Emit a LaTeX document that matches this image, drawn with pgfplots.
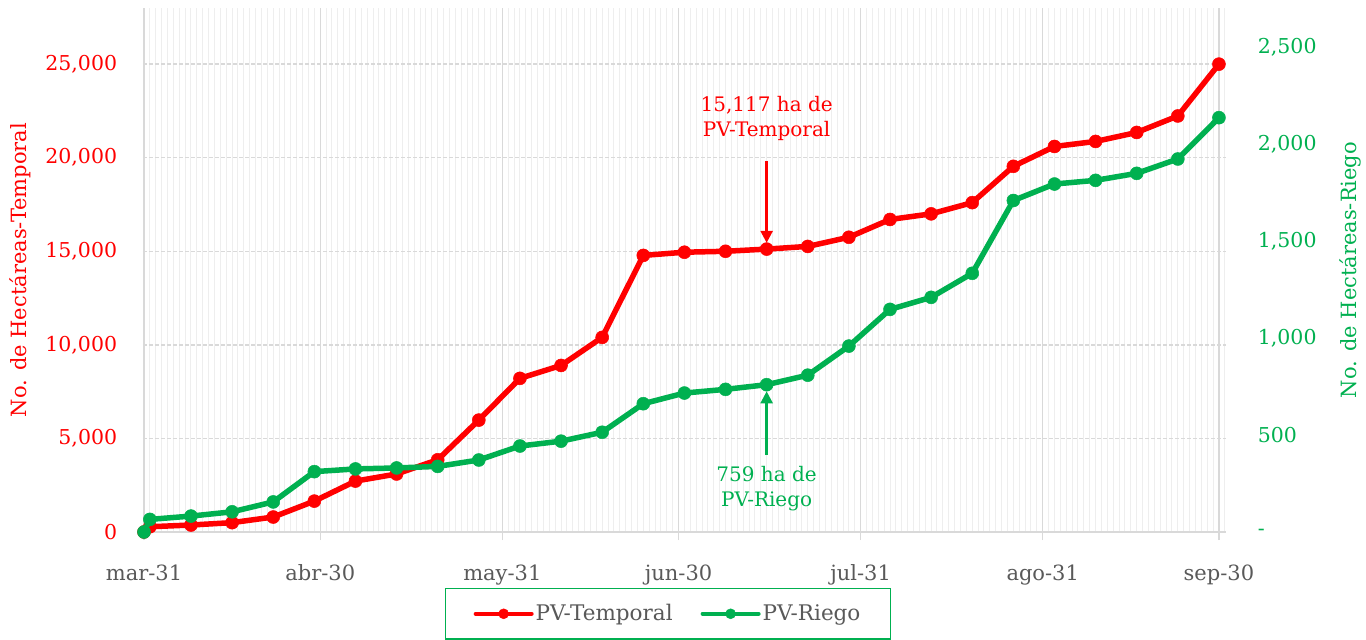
\documentclass[border=0pt]{standalone}
\usepackage{fontspec}
\setmainfont{DejaVu Serif}
\usepackage{pgfplots}
\usepackage{pgfplotstable}
\pgfplotsset{compat=1.18}
\usetikzlibrary{arrows.meta}
\definecolor{myred}{RGB}{255,0,0}
\definecolor{mygreen}{RGB}{0,176,80}
\definecolor{txtgray}{RGB}{89,89,89}
\definecolor{gridmaj}{RGB}{217,217,217}
\definecolor{gridmin}{RGB}{238,238,238}
\pgfplotstableread{
day temporal riego
0 0 0
1 280 65
8 373 82
15 500 104
22 800 155
29 1650 311
36 2720 325
43 3100 330
50 3860 338
57 5980 371
64 8210 443
71 8900 468
78 10400 514
85 14780 661
92 14950 716
99 15000 735
106 15117 759
113 15260 808
120 15750 958
127 16700 1147
134 17000 1209
141 17600 1333
148 19540 1708
155 20600 1793
162 20870 1812
169 21350 1848
176 22230 1922
183 25000 2135
}\datatable
\pgfplotsset{base/.style={width=1083pt,height=524pt,scale only axis,
  at={(143pt,108pt)},anchor=south west,xmin=-0.17,xmax=184.2,clip=false,
  scaled y ticks=false,
  /pgf/number format/assume math mode=true,
  /pgf/number format/1000 sep={,}}}
\begin{document}
\fontsize{20}{25}\selectfont
\begin{tikzpicture}
\useasboundingbox (0,0) rectangle (1366pt,640pt);
\begin{axis}[base,
  ymin=0,ymax=28000,
  axis x line*=bottom, axis y line*=left,
  x axis line style={gridmaj,line width=1.5pt,-},
  y axis line style={draw=none},
  xtick={0,30,61,91,122,153,183},
  xticklabels={mar-31,abr-30,may-31,jun-30,jul-31,ago-31,sep-30},
  minor xtick={0,1,...,184},
  xtick style={gridmaj,line width=1.3pt},
  ytick style={draw=none},
  major tick length=8pt, minor tick length=0pt,
  xtick align=outside,
  ytick={0,5000,10000,15000,20000,25000},
  xticklabel style={anchor=base,yshift=-40pt,text=txtgray,font=\fontsize{21}{25}\selectfont},
  yticklabel style={anchor=east,xshift=-19pt,text=myred,font=\fontsize{20.5}{25}\selectfont},
  xmajorgrids, xminorgrids, ymajorgrids,
  major x grid style={gridmaj,line width=1.3pt},
  minor x grid style={gridmin,line width=1pt},
  major y grid style={gridmaj,line width=1.3pt,dash pattern=on 4pt off 2pt},
  ylabel={No. de Hectáreas-Temporal},
  every axis y label/.style={at={(axis description cs:-0.1136,0.5)},rotate=90,anchor=center,text=myred,font=\fontsize{21}{25}\selectfont},
  legend columns=2,
  legend style={at={(axis description cs:0.4848,-0.1069)},anchor=north,
    draw=mygreen,line width=1.2pt,text=txtgray,inner xsep=28pt,inner ysep=13.5pt,
    font=\fontsize{21.5}{25}\selectfont,
    /tikz/every even column/.append style={column sep=26pt}},
  legend image code/.code={\draw[#1,mark repeat=2,mark phase=2] plot coordinates {(0pt,0pt) (28pt,0pt) (56pt,0pt)};},
]
\addplot[myred,line width=5.5pt,mark=*,mark size=6.5pt,mark options={line width=0.5pt,fill=myred},forget plot] table[x=day,y=temporal]{\datatable};
\addlegendimage{myred,line width=4pt,line cap=round,mark=*,mark size=5pt,mark options={line width=0.5pt,fill=myred}}
\addlegendentry{PV-Temporal}
\addlegendimage{mygreen,line width=4pt,line cap=round,mark=*,mark size=5pt,mark options={line width=0.5pt,fill=mygreen}}
\addlegendentry{PV-Riego}
\draw[myred,line width=2.5pt,-{Triangle[length=12pt,width=12pt]}] (axis cs:106,19830) -- (axis cs:106,15450);
\node[text=myred,align=center,font=\fontsize{20}{25}\selectfont] at (axis cs:106,22070) {15,117 ha de\\PV-Temporal};
\draw[mygreen,line width=2.5pt,-{Triangle[length=12pt,width=12pt]}] (axis cs:106,4104) -- (axis cs:106,7516);
\node[text=mygreen,align=center,font=\fontsize{20}{25}\selectfont] at (axis cs:106,2300) {759 ha de\\PV-Riego};
\end{axis}
\begin{axis}[base,
  ymin=0,ymax=2700,
  axis x line=none, axis y line*=right,
  y axis line style={draw=none},
  ytick={0,500,1000,1500,2000,2500},
  yticklabels={-,500,{1,000},{1,500},{2,000},{2,500}},
  tick style={draw=none},
  yticklabel style={anchor=west,xshift=25pt,text=mygreen,font=\fontsize{20.5}{25}\selectfont},
  ylabel={No. de Hectáreas-Riego},
  every axis y label/.style={at={(axis description cs:1.1145,0.5)},rotate=90,anchor=center,text=mygreen,font=\fontsize{21}{25}\selectfont},
]
\addplot[mygreen,line width=5.5pt,mark=*,mark size=6.5pt,mark options={line width=0.5pt,fill=mygreen}] table[x=day,y=riego]{\datatable};
\end{axis}
\end{tikzpicture}
\end{document}
